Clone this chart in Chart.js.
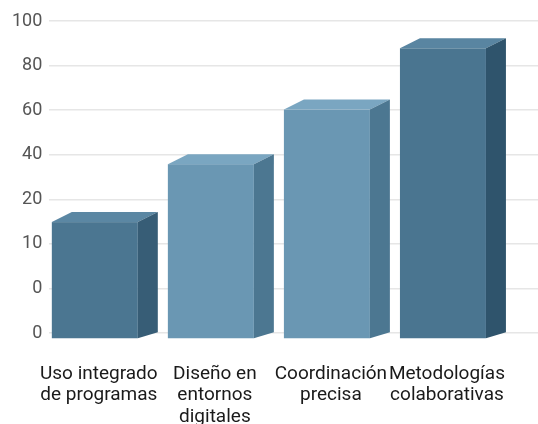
<!DOCTYPE html>
<html>
<head>
<meta charset="utf-8">
<script src="https://cdn.jsdelivr.net/npm/chart.js@4"></script>
<style>
  html, body { margin: 0; padding: 0; background: #fff; }
  #wrap { width: 538px; height: 424px; }
</style>
</head>
<body>
<div id="wrap"><canvas id="chart"></canvas></div>
<script>
const categories = [
  ['Uso integrado', 'de programas'],
  ['Diseño en', 'entornos', 'digitales'],
  ['Coordinación', 'precisa'],
  ['Metodologías', 'colaborativas']
];
const values = [52, 78, 102.5, 130];
const yTickLabels = ['0', '0', '10', '20', '40', '60', '80', '100'];

// face colours per bar: front, top, side
const frontColors = ['#4b7691', '#6a97b3', '#6a97b3', '#4a7590'];
const topColors = ['#5b87a3', '#7aa6c1', '#7aa6c1', '#5985a1'];
const sideColors = ['#375d76', '#4c7791', '#4c7791', '#2f546c'];

// extrudes each bar into a box: top and right faces, front face shifted forward
const box3d = {
  id: 'box3d',
  afterDatasetsDraw(chart) {
    const ctx = chart.ctx;
    const dx = 20, dyTop = 10, dyBottom = 6;
    chart.getDatasetMeta(0).data.forEach((bar, i) => {
      const half = bar.width / 2;
      const l = bar.x - half - dx / 2, r = bar.x + half - dx / 2;
      const t = bar.y + dyTop / 2, b = bar.base + dyBottom;
      ctx.save();
      ctx.fillStyle = frontColors[i];
      ctx.fillRect(l, t, r - l, b - t);
      ctx.fillStyle = topColors[i];
      ctx.beginPath();
      ctx.moveTo(l, t); ctx.lineTo(l + dx, t - dyTop);
      ctx.lineTo(r + dx, t - dyTop); ctx.lineTo(r, t);
      ctx.closePath(); ctx.fill();
      ctx.fillStyle = sideColors[i];
      ctx.beginPath();
      ctx.moveTo(r, t); ctx.lineTo(r + dx, t - dyTop);
      ctx.lineTo(r + dx, b - dyBottom); ctx.lineTo(r, b);
      ctx.closePath(); ctx.fill();
      ctx.restore();
    });
  }
};

new Chart(document.getElementById('chart'), {
  type: 'bar',
  data: {
    datasets: [{
      data: values.map((v, i) => ({ x: i, y: v })),
      backgroundColor: 'rgba(0,0,0,0)',
      barPercentage: 0.741,
      categoryPercentage: 1
    }]
  },
  options: {
    responsive: true, maintainAspectRatio: false, animation: false,
    layout: { padding: { top: 21, left: 5, right: 0, bottom: 0 } },
    plugins: { legend: { display: false }, tooltip: { enabled: false } },
    scales: {
      x: {
        type: 'linear', min: -0.478, max: 3.733, offset: false,
        grid: { display: false, drawTicks: false }, border: { display: false },
        afterBuildTicks: s => { s.ticks = categories.map((c, i) => ({ value: i })); },
        afterFit: s => { s.height = 91; s.paddingLeft = 0; s.paddingRight = 0; },
        ticks: {
          padding: 30, labelOffset: -6, autoSkip: false, maxRotation: 0,
          color: '#1a1a1a', font: { family: 'Roboto', size: 19, lineHeight: 1.14 },
          callback: v => categories[v]
        }
      },
      y: {
        min: 0, max: 140,
        grid: { color: '#e6e6e6', lineWidth: 1.5, drawTicks: false },
        border: { display: false },
        ticks: {
          stepSize: 20, padding: 7,
          color: '#555', font: { family: 'Roboto', size: 18 },
          callback: (v, i) => yTickLabels[i]
        }
      }
    }
  },
  plugins: [box3d]
});
</script>
</body>
</html>
